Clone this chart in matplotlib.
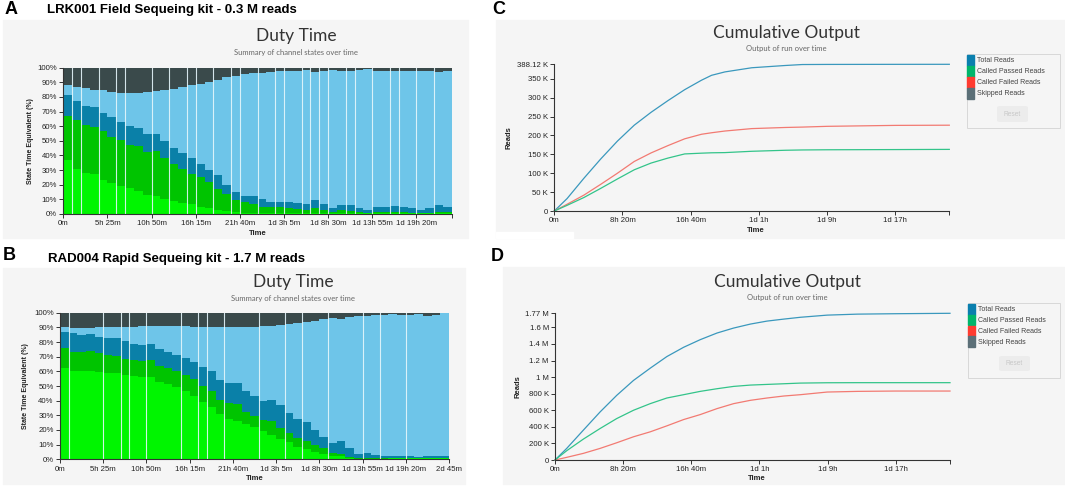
import numpy as np
import matplotlib
matplotlib.use("Agg")
import matplotlib.pyplot as plt
from matplotlib.patches import Rectangle, FancyBboxPatch

W, H = 1065, 486

# ---- Duty time data (cumulative layer tops, % per 65 min bin) ----
BIN_MIN = 65
a_lime = [37, 31, 28, 27, 23, 21, 19, 17.5, 15.5, 13, 12, 10.5, 9, 7.5, 6.5, 5, 4, 3, 2, 1.5,
          1, 1, 0.8, 0.8, 0.8, 0.8, 0.6, 0.6, 1, 0.6, 0.5, 0.6, 0.5, 0.5, 0.5, 0.5, 0.5, 0.5,
          0.5, 0.5, 0.5, 0.5, 0.5, 0.5]
a_green = [67, 64, 61, 59.5, 56.5, 52.5, 50.5, 47, 46.5, 42.5, 43, 38.5, 34.5, 31, 27.5, 25, 22, 17, 14, 9.5,
           8, 7, 5, 4.5, 4.5, 4, 3.5, 3, 4, 3, 1.5, 2.5, 2, 1.5, 1, 1.5, 1.5, 1.5,
           1.5, 1, 1, 1, 1.5, 1.5]
a_blue = [81, 77.5, 74, 73, 69, 66, 63, 60, 58.5, 55, 55, 50, 45, 42, 38.5, 34, 30, 26.5, 20, 15,
          12.5, 12, 10.5, 8.5, 8.5, 8.5, 7.5, 7, 9.5, 6.5, 4, 6, 6, 4, 3, 4.5, 5, 5.5,
          4.5, 4, 3, 4, 6, 4.5]
a_sky = [88, 86.5, 86, 85, 84.5, 83.5, 83, 83, 83, 83.5, 84, 85, 85.5, 87, 88, 89, 90, 91.5, 93.5, 94.5,
         96, 96.5, 96.5, 97, 97.5, 98, 98, 98.5, 97, 98, 98.5, 98, 97.5, 98.5, 99, 98, 97.5, 98,
         98, 98, 98, 98, 97, 97.5]
a_seps = [1, 2, 4, 6, 7, 10, 12, 14, 15, 17, 19, 20, 22, 24, 25, 27, 28, 29, 30, 32, 33, 35, 37, 38, 40, 42]

b_lime = [62.5, 60.5, 60.2, 60.5, 59.8, 59, 59, 57.5, 56.8, 56, 56, 53, 51.4, 49.5, 46.8, 43.2, 39.3, 35.9,
          31, 27.3, 26.4, 24, 21.8, 19, 16.6, 13.9, 11.8, 8.6, 7.3, 4.8, 3.6, 2.5, 2, 1, 0.5, 0.5,
          0.4, 0.4, 0.6, 0.6, 0.8, 0.8, 0.8, 0.8, 0.8]
b_green = [75.7, 73.4, 73, 73.6, 72.3, 71, 70.7, 68.2, 67.7, 67.3, 67.7, 63.6, 62, 60.5, 57.5, 54.5, 50.2, 46.8,
           40.5, 38.2, 37.7, 32.5, 29.5, 26.8, 26.1, 21.6, 18.2, 14.8, 12.5, 9.8, 7.5, 4, 3.9, 1.8, 1, 1,
           0.8, 0.7, 0.8, 0.8, 1, 1, 1, 1, 1]
b_blue = [87, 86, 84.5, 85.7, 83.4, 82.5, 82.7, 80.5, 78.6, 77.7, 78.6, 75.5, 73, 71, 68.9, 66.6, 63, 60.5,
          54, 51.8, 51.8, 46.6, 43.2, 40, 40.2, 37, 31.8, 27.3, 25.5, 20, 15.5, 11, 12.5, 7.5, 3.6, 4,
          3.2, 2.5, 2, 2, 2, 1.8, 2, 2, 2]
b_sky = [90, 89.3, 89.5, 89.8, 90, 90, 90.2, 90.5, 90.5, 91, 91, 91, 91, 91, 90.7, 90.5, 90.5, 90.5,
         90.2, 90.2, 90.2, 90.2, 90.5, 91, 91.1, 91.5, 92, 93, 93.6, 94.3, 95.7, 96.6, 95.9, 97, 98, 98,
         98.3, 98.5, 99, 98.5, 98.5, 98.8, 98, 98.5, 99.5]
b_seps = [1, 5, 7, 8, 10, 14, 16, 17, 19, 23, 26, 28, 31, 35, 37, 40]

# ---- Cumulative output data (minutes, thousands of reads) ----
c_time = [0, 94, 217, 340, 463, 586, 709, 833, 956, 1079, 1153, 1251, 1448, 1695, 1818, 2000, 2499, 2896]
c_total = [0, 33, 86.6, 137.5, 185, 227, 261, 292, 321, 346, 359, 368, 379, 385, 387.5, 387.8, 388, 388.12]
c_failed = [0, 17.9, 42, 70.5, 100, 131, 153.6, 173, 191, 203, 207, 211.6, 218, 221, 222, 224, 226.5, 227]
c_passed = [0, 15, 35.7, 59.8, 84.8, 109, 126.8, 140, 151, 153, 154, 154.5, 158, 160.7, 161.5, 162, 162.5, 163]

d_time = [0, 86, 208, 331, 453, 576, 699, 821, 944, 1066, 1189, 1311, 1434, 1556, 1679, 1801, 1998, 2220,
          2500, 2899]
d_total = [0, 140, 360, 580, 780, 960, 1108, 1248, 1360, 1452, 1532, 1592, 1640, 1676, 1700, 1722, 1748, 1760,
           1765, 1770]
d_passed = [0, 112, 252, 380, 500, 600, 680, 748, 788, 828, 860, 888, 904, 912, 920, 928, 932, 933, 933, 933]
d_failed = [0, 32, 80, 140, 208, 280, 340, 412, 488, 548, 620, 680, 720, 748, 772, 788, 820, 828, 832, 832]

legend_labels = ["Total Reads", "Called Passed Reads", "Called Failed Reads", "Skipped Reads"]
legend_colors = ["#0a7fae", "#00b56b", "#ff3b30", "#5b6f77"]

state_colors = ["#00f500", "#00c400", "#0a80a8", "#6ec5e9", "#3a4a4b"]
BG = "#f5f5f5"
AX = "#333333"
UI_FONT = ["Liberation Sans", "DejaVu Sans"]
TITLE_FONT = ["Lato", "DejaVu Sans"]

fig = plt.figure(figsize=(W / 100, H / 100), dpi=100)
fig.patch.set_facecolor("white")


def px_axes(x0, y0, x1, y1):
    return fig.add_axes([x0 / W, 1 - y1 / H, (x1 - x0) / W, (y1 - y0) / H])


def ftext(x, y, s, **kw):
    fig.text(x / W, 1 - y / H, s, **kw)


def frect(x0, y0, x1, y1, **kw):
    fig.patches.append(Rectangle((x0 / W, 1 - y1 / H), (x1 - x0) / W, (y1 - y0) / H,
                                 transform=fig.transFigure, figure=fig, **kw))


def fmt_min(m, max_units=3):
    m = int(round(m))
    d, rest = divmod(m, 1440)
    h, mm = divmod(rest, 60)
    parts = []
    for val, unit in [(d, "d"), (h, "h"), (mm, "m")]:
        if val and len(parts) < max_units:
            parts.append(f"{val}{unit}")
    return " ".join(parts) if parts else "0m"


def style_axes(ax):
    ax.set_facecolor("none")
    for s in ["top", "right"]:
        ax.spines[s].set_visible(False)
    for s in ["left", "bottom"]:
        ax.spines[s].set_color(AX)
        ax.spines[s].set_linewidth(0.8)
    ax.tick_params(direction="out", length=3, width=0.7, color=AX, labelsize=5.6,
                   labelcolor="#222222", pad=1.5)
    for lab in ax.get_xticklabels() + ax.get_yticklabels():
        lab.set_family(UI_FONT)


def duty_panel(box, bg, title_y, sub_y, cx, ylab_x, time_y, lime, green, blue, sky, seps, xmax, ticks):
    frect(*bg, color=BG, zorder=-5)
    ftext(cx, title_y, "Duty Time", ha="center", va="center", fontsize=12.5,
          color="#333333", family=TITLE_FONT)
    ftext(cx, sub_y, "Summary of channel states over time", ha="center", va="center",
          fontsize=5.5, color="#666666", family=TITLE_FONT)
    ax = px_axes(*box)
    n = len(lime)
    x = np.arange(n) * BIN_MIN
    tops = [np.array(lime), np.array(green), np.array(blue), np.array(sky), np.full(n, 100.0)]
    bottom = np.zeros(n)
    for top, col in zip(tops, state_colors):
        ax.bar(x, top - bottom, bottom=bottom, width=BIN_MIN, align="edge", color=col,
               linewidth=0)
        bottom = top
    for i in seps:
        ax.axvline(i * BIN_MIN, color="#e6f6fb", lw=0.8, alpha=0.9)
    ax.set_xlim(0, xmax)
    ax.set_ylim(0, 100)
    ax.set_yticks(range(0, 101, 10))
    ax.set_yticklabels([f"{v}%" for v in range(0, 101, 10)])
    ax.set_xticks(ticks)
    ax.set_xticklabels([fmt_min(t) if t % 325 == 0 else "" for t in ticks])
    style_axes(ax)
    ftext(ylab_x, (box[1] + box[3]) / 2, "State Time Equivalent (%)", rotation=90,
          ha="center", va="center", fontsize=5, weight="bold", family=UI_FONT, color="#222222")
    ftext((box[0] + box[2]) / 2, time_y, "Time", ha="center", va="center", fontsize=5.5,
          weight="bold", family=UI_FONT, color="#222222")
    return ax


def cumulative_panel(box, bg, title_y, sub_y, cx, ylab_x, time_y, t, total, passed, failed,
                     xmax, yticks, ylabels, leg_box, reset_box):
    frect(*bg, color=BG, zorder=-5)
    ftext(cx, title_y, "Cumulative Output", ha="center", va="center", fontsize=12.5,
          color="#333333", family=TITLE_FONT)
    ftext(cx, sub_y, "Output of run over time", ha="center", va="center", fontsize=5.5,
          color="#666666", family=TITLE_FONT)
    ax = px_axes(*box)
    ax.plot(t, np.array(total) * 1e3, color="#3a98bd", lw=0.9, clip_on=False)
    ax.plot(t, np.array(failed) * 1e3, color="#f27a72", lw=0.9, clip_on=False)
    ax.plot(t, np.array(passed) * 1e3, color="#33c48a", lw=0.9, clip_on=False)
    ax.set_xlim(0, xmax)
    ax.set_ylim(0, yticks[-1])
    ax.set_yticks(yticks)
    ax.set_yticklabels(ylabels)
    xt = [0, 500, 1000, 1500, 2000, 2500, xmax]
    ax.set_xticks(xt)
    ax.set_xticklabels([fmt_min(v, 2) for v in xt[:-1]] + [""])
    style_axes(ax)
    ftext(ylab_x, (box[1] + box[3]) / 2, "Reads", rotation=90, ha="center", va="center",
          fontsize=5.5, weight="bold", family=UI_FONT, color="#222222")
    ftext((box[0] + box[2]) / 2 + 4, time_y, "Time", ha="center", va="center", fontsize=5.5,
          weight="bold", family=UI_FONT, color="#222222")
    # legend box drawn by hand
    lx0, ly0, lx1, ly1 = leg_box
    frect(lx0, ly0, lx1, ly1, facecolor=BG, edgecolor="#d8d8d8", lw=0.7, zorder=1)
    for k, (lab, col) in enumerate(zip(legend_labels, legend_colors)):
        y0 = ly0 + 1 + k * 10.9
        frect(lx0, y0, lx0 + 7, y0 + 10.9, color=col, zorder=2)
        ftext(lx0 + 10.5, y0 + 5.6, lab, ha="left", va="center", fontsize=5,
              color="#444444", family=UI_FONT)
    rx0, ry0, rx1, ry1 = reset_box
    fig.patches.append(FancyBboxPatch((rx0 / W, 1 - ry1 / H), (rx1 - rx0) / W, (ry1 - ry0) / H,
                                      boxstyle="round,pad=0,rounding_size=0.003",
                                      transform=fig.transFigure, figure=fig,
                                      facecolor="#ececec", edgecolor="none", zorder=2))
    ftext((rx0 + rx1) / 2, (ry0 + ry1) / 2, "Reset", ha="center", va="center", fontsize=4.8,
          color="#c8c8c8", family=UI_FONT)
    return ax


# panel headers
ftext(5, 9, "A", fontsize=13, weight="bold", family=UI_FONT, va="center")
ftext(47, 10, "LRK001 Field Sequeing kit - 0.3 M reads", fontsize=9.5, weight="bold",
      family=UI_FONT, va="center")
ftext(3, 255, "B", fontsize=13, weight="bold", family=UI_FONT, va="center")
ftext(48, 259, "RAD004 Rapid Sequeing kit - 1.7 M reads", fontsize=9.5, weight="bold",
      family=UI_FONT, va="center")
ftext(492, 10, "C", fontsize=13, weight="bold", family=UI_FONT, va="center")
ftext(491, 256, "D", fontsize=13, weight="bold", family=UI_FONT, va="center")

a_end = len(a_lime) * BIN_MIN
duty_panel((63.3, 67.7, 451.7, 214), (3, 20, 468, 238), 36, 52, 296, 30, 233,
           a_lime, a_green, a_blue, a_sky, a_seps, a_end,
           [325 * k for k in range(9)] + [a_end])
b_end = len(b_lime) * BIN_MIN
duty_panel((60, 312.7, 449, 459.3), (3, 268, 465, 484), 282, 298, 293, 26, 478,
           b_lime, b_green, b_blue, b_sky, b_seps, b_end,
           [325 * k for k in range(10)])

c_ticks = [0, 50e3, 100e3, 150e3, 200e3, 250e3, 300e3, 350e3, 388.12e3]
c_labels = ["0", "50 K", "100 K", "150 K", "200 K", "250 K", "300 K", "350 K", "388.12 K"]
cumulative_panel((554.3, 64.3, 949.3, 211), (495.5, 20, 1065, 238), 33, 49, 786, 509, 230,
                 c_time, c_total, c_passed, c_failed, c_time[-1], c_ticks, c_labels,
                 (966.9, 54.3, 1059.5, 128.3), (997, 106, 1028, 122))
frect(495.5, 232, 572.7, 238.5, color="white", zorder=3)

d_ticks = [0, 200e3, 400e3, 600e3, 800e3, 1e6, 1.2e6, 1.4e6, 1.6e6, 1.77e6]
d_labels = ["0", "200 K", "400 K", "600 K", "800 K", "1 M", "1.2 M", "1.4 M", "1.6 M", "1.77 M"]
cumulative_panel((555, 313.3, 950, 460), (502.9, 266.7, 1065, 484), 281.7, 297.7, 787.6, 517.6, 478,
                 d_time, d_total, d_passed, d_failed, d_time[-1], d_ticks, d_labels,
                 (967.6, 302.7, 1060, 377.7), (999, 356, 1030, 371))

fig.savefig("out.png", dpi=100)
